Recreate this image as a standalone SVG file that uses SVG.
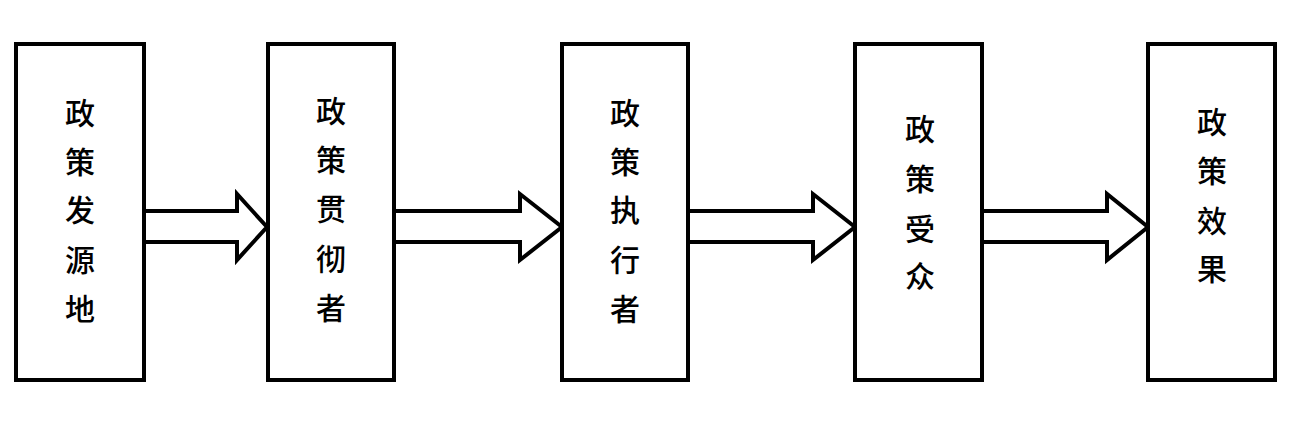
<svg xmlns="http://www.w3.org/2000/svg" width="1291" height="425" viewBox="0 0 1291 425">
<style>
.box{fill:#fff;stroke:#000;stroke-width:4}
.arr{fill:#fff;stroke:#000;stroke-width:4;stroke-linejoin:miter}
.t{font-family:"Noto Sans CJK SC","Noto Sans CJK TC",sans-serif;font-size:30px;font-weight:500;fill:#000;text-anchor:middle;dominant-baseline:central}
</style>
<rect width="1291" height="425" fill="#fff"/>
<g id="connectors">
<polygon class="arr" points="144,211 237,211 237,194 267,227 237,260 237,242 144,242"/>
<polygon class="arr" points="394,211 520,211 520,194 562,227 520,260 520,242 394,242"/>
<polygon class="arr" points="688,211 813,211 813,194 855,227 813,260 813,242 688,242"/>
<polygon class="arr" points="982,211 1107,211 1107,194 1148,227 1107,260 1107,242 982,242"/>
</g>
<g id="n1">
<rect class="box" x="16" y="44" width="128" height="336"/>
<text class="t" x="80" y="111">政</text>
<text class="t" x="80" y="160">策</text>
<text class="t" x="80" y="208">发</text>
<text class="t" x="80" y="258">源</text>
<text class="t" x="80" y="307">地</text>
</g>
<g id="n2">
<rect class="box" x="268" y="44" width="126" height="336"/>
<text class="t" x="331" y="109">政</text>
<text class="t" x="331" y="158">策</text>
<text class="t" x="331" y="207">贯</text>
<text class="t" x="331" y="257">彻</text>
<text class="t" x="331" y="306">者</text>
</g>
<g id="n3">
<rect class="box" x="562" y="44" width="126" height="336"/>
<text class="t" x="625" y="111">政</text>
<text class="t" x="625" y="160">策</text>
<text class="t" x="625" y="208">执</text>
<text class="t" x="625" y="258">行</text>
<text class="t" x="625" y="307">者</text>
</g>
<g id="n4">
<rect class="box" x="855" y="44" width="127" height="336"/>
<text class="t" x="920" y="127">政</text>
<text class="t" x="920" y="177">策</text>
<text class="t" x="920" y="227">受</text>
<text class="t" x="920" y="274">众</text>
</g>
<g id="n5">
<rect class="box" x="1148" y="44" width="127" height="336"/>
<text class="t" x="1212" y="120">政</text>
<text class="t" x="1212" y="169">策</text>
<text class="t" x="1212" y="219">效</text>
<text class="t" x="1212" y="267">果</text>
</g>
</svg>
